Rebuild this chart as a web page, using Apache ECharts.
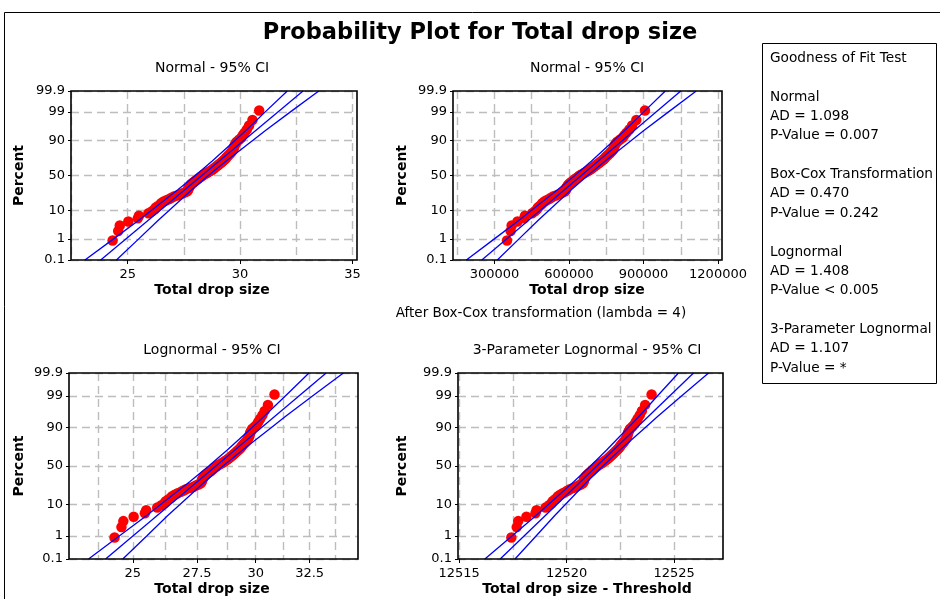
<!DOCTYPE html>
<html>
<head>
<meta charset="utf-8">
<script src="https://cdn.jsdelivr.net/npm/echarts@6/dist/echarts.min.js"></script>
<style>
  html, body { margin: 0; padding: 0; background: #fff; }
  #main { width: 940px; height: 599px; }
</style>
</head>
<body>
<div id="main"></div>
<script>
// sorted sample (n = 80)
var dropSize = [
  24.33, 24.58, 24.65, 25.03, 25.45, 25.50, 25.92, 26.08, 26.20, 26.25,
  26.35, 26.45, 26.50, 26.60, 26.72, 26.85, 26.95, 27.05, 27.20, 27.35,
  27.45, 27.55, 27.65, 27.68, 27.70, 27.70, 27.72, 27.75, 27.78, 27.80,
  27.85, 27.90, 27.95, 28.00, 28.05, 28.10, 28.15, 28.20, 28.25, 28.30,
  28.35, 28.42, 28.50, 28.55, 28.62, 28.68, 28.75, 28.80, 28.85, 28.90,
  28.95, 29.00, 29.05, 29.10, 29.15, 29.20, 29.25, 29.30, 29.35, 29.38,
  29.42, 29.47, 29.52, 29.57, 29.62, 29.66, 29.70, 29.72, 29.74, 29.76,
  29.80, 29.85, 29.95, 30.05, 30.12, 30.20, 30.30, 30.40, 30.55, 30.85
];
var boxCoxLambda = 4;
var threshold = -12493.1;

// probability axis
var percentTicks = [0.1, 1, 10, 50, 90, 99, 99.9];
// percent levels where the fit line and the 95% CI are read
var ciPercents = [0.1, 1, 5, 10, 30, 50, 70, 90, 95, 99, 99.9];

// Normal
var fitNormal = [23.80, 32.80];
var ciNormalLow = [23.10, 24.36, 25.48, 26.05, 27.23, 28.01, 28.75, 29.77, 30.26, 31.12, 32.10];
var ciNormalHigh = [24.50, 25.48, 26.35, 26.84, 27.85, 28.59, 29.37, 30.56, 31.13, 32.24, 33.50];
// Normal after Box-Cox
var fitBoxCox = [249000, 1050000];
var ciBoxCoxLow = [186800, 298300, 397600, 448200, 553900, 623600, 689800, 780400, 823900, 901200, 987700];
var ciBoxCoxHigh = [311300, 397800, 475100, 518600, 609200, 675400, 745100, 850800, 901400, 1000700, 1112300];
// Lognormal
var fitLogn = [24.01, 33.31];
var ciLognLow = [23.41, 24.50, 25.52, 26.05, 27.20, 27.98, 28.75, 29.84, 30.37, 31.35, 32.47];
var ciLognHigh = [24.63, 25.52, 26.33, 26.81, 27.82, 28.58, 29.41, 30.71, 31.35, 32.64, 34.17];
// 3-Parameter Lognormal
var fit3p = [12516.91, 12525.90];
var ci3pLow = [12516.20, 12517.46, 12518.58, 12519.15, 12520.33, 12521.11, 12521.85, 12522.87, 12523.36, 12524.22, 12525.20];
var ci3pHigh = [12517.60, 12518.58, 12519.45, 12519.94, 12520.95, 12521.69, 12522.47, 12523.66, 12524.23, 12525.34, 12526.60];

// x tick values
var gridX1 = [22.5, 25, 27.5, 30, 32.5, 35];
var labX1 = [25, 30, 35];
var gridX2 = [150000, 300000, 450000, 600000, 750000, 900000, 1050000, 1200000];
var labX2 = [300000, 600000, 900000, 1200000];
var gridX3 = [23.75, 25, 26.25, 27.5, 28.75, 30, 31.25, 32.5, 33.75];
var labX3 = [25, 27.5, 30, 32.5];
var gridX4 = [12515, 12517.5, 12520, 12522.5, 12525];
var labX4 = [12515, 12520, 12525];

var goodness = [
  'Goodness of Fit Test', '',
  'Normal', 'AD = 1.098', 'P-Value = 0.007', '',
  'Box-Cox Transformation', 'AD = 0.470', 'P-Value = 0.242', '',
  'Lognormal', 'AD = 1.408', 'P-Value < 0.005', '',
  '3-Parameter Lognormal', 'AD = 1.107', 'P-Value = *'
];

// inverse standard normal (Acklam)
function normInv(p) {
  var a = [-3.969683028665376e+01, 2.209460984245205e+02, -2.759285104469687e+02, 1.383577518672690e+02, -3.066479806614716e+01, 2.506628277459239e+00];
  var b = [-5.447609879822406e+01, 1.615858368580409e+02, -1.556989798598866e+02, 6.680131188771972e+01, -1.328068155288572e+01];
  var c = [-7.784894002430293e-03, -3.223964580411365e-01, -2.400758277161838e+00, -2.549732539343734e+00, 4.374664141464968e+00, 2.938163982698783e+00];
  var d = [7.784695709041462e-03, 3.224671290700398e-01, 2.445134137142996e+00, 3.754408661907416e+00];
  var pl = 0.02425, q, r;
  if (p < pl) {
    q = Math.sqrt(-2 * Math.log(p));
    return (((((c[0]*q+c[1])*q+c[2])*q+c[3])*q+c[4])*q+c[5]) / ((((d[0]*q+d[1])*q+d[2])*q+d[3])*q+1);
  }
  if (p > 1 - pl) {
    q = Math.sqrt(-2 * Math.log(1 - p));
    return -(((((c[0]*q+c[1])*q+c[2])*q+c[3])*q+c[4])*q+c[5]) / ((((d[0]*q+d[1])*q+d[2])*q+d[3])*q+1);
  }
  q = p - 0.5; r = q * q;
  return (((((a[0]*r+a[1])*r+a[2])*r+a[3])*r+a[4])*r+a[5])*q / (((((b[0]*r+b[1])*r+b[2])*r+b[3])*r+b[4])*r+1);
}

var zTicks = percentTicks.map(function (p) { return normInv(p / 100); });
var zCi = ciPercents.map(function (p) { return normInv(p / 100); });
var n = dropSize.length;
// median ranks
var zRank = dropSize.map(function (v, i) { return normInv((i + 1 - 0.3) / (n + 0.4)); });

var FONT = 'DejaVu Sans';
var gridStyle = { color: '#bdbdbd', width: 1.4, type: [8, 5] };

function ident(v) { return v; }
function plain(v) { return String(+(+v).toFixed(2)); }

var panels = [
  { rect: { left: 71, top: 91, width: 286, height: 169 }, xr: [22.48, 35.2], gx: gridX1, lx: labX1,
    f: ident, lab: plain, fit: fitNormal, lo: ciNormalLow, hi: ciNormalHigh,
    title: 'Normal - 95% CI', xname: 'Total drop size' },
  { rect: { left: 453, top: 91, width: 269, height: 169 }, xr: [133000, 1216000], gx: gridX2, lx: labX2,
    f: function (v) { return Math.pow(v, boxCoxLambda); }, lab: plain,
    fit: fitBoxCox, lo: ciBoxCoxLow, hi: ciBoxCoxHigh,
    title: 'Normal - 95% CI', xname: 'Total drop size' },
  { rect: { left: 69, top: 373, width: 289, height: 186 }, xr: [22.74, 34.92], gx: gridX3, lx: labX3,
    f: Math.log, lab: function (v) { return plain(Math.exp(v)); }, logAxis: true,
    fit: fitLogn, lo: ciLognLow, hi: ciLognHigh,
    title: 'Lognormal - 95% CI', xname: 'Total drop size' },
  { rect: { left: 458, top: 373, width: 265, height: 186 }, xr: [12514.95, 12527.27], gx: gridX4, lx: labX4,
    f: function (v) { return v - threshold; }, lab: plain,
    fit: fit3p, lo: ci3pLow, hi: ci3pHigh,
    title: '3-Parameter Lognormal - 95% CI', xname: 'Total drop size - Threshold' }
];

var grids = [], xAxes = [], yAxes = [], series = [], gfx = [];

function txt(s, x, y, size, bold, align, rot) {
  return {
    type: 'text', x: x, y: y, rotation: rot || 0, z: 100,
    style: {
      text: s, x: 0, y: 0, fill: '#000',
      fontSize: size, fontWeight: bold ? 'bold' : 'normal', fontFamily: FONT,
      textAlign: align || 'center', align: align || 'center',
      textVerticalAlign: 'middle', verticalAlign: 'middle'
    }
  };
}

panels.forEach(function (pn, i) {
  // lognormal panel is plotted on ln(x); its CI arrays are kept in drop-size units
  var ax = pn.logAxis ? Math.log : ident;
  grids.push(pn.rect);
  xAxes.push({
    gridIndex: i, type: 'value', min: ax(pn.xr[0]), max: ax(pn.xr[1]),
    axisLine: { show: false },
    axisTick: { show: false, customValues: pn.gx.map(ax) },
    axisLabel: { show: false },
    splitLine: { show: true, lineStyle: gridStyle }
  });
  xAxes.push({
    gridIndex: i, type: 'value', position: 'bottom', min: ax(pn.xr[0]), max: ax(pn.xr[1]),
    axisLine: { show: false },
    axisTick: { show: true, length: 4, customValues: pn.lx.map(ax), lineStyle: { color: '#000', width: 1 } },
    axisLabel: { customValues: pn.lx.map(ax), formatter: pn.lab, color: '#000', fontSize: 13, fontFamily: FONT, margin: 8 },
    splitLine: { show: false }
  });
  yAxes.push({
    gridIndex: i, type: 'value', min: zTicks[0], max: zTicks[zTicks.length - 1],
    axisLine: { show: false },
    axisTick: { show: true, length: 3, customValues: zTicks, lineStyle: { color: '#000', width: 1 } },
    axisLabel: {
      customValues: zTicks, color: '#000', fontSize: 13, fontFamily: FONT, margin: 6,
      formatter: function (v) {
        var best = 0;
        zTicks.forEach(function (z, k) { if (Math.abs(z - v) < Math.abs(zTicks[best] - v)) best = k; });
        return String(percentTicks[best]);
      }
    },
    splitLine: { show: true, lineStyle: gridStyle }
  });

  series.push({
    type: 'scatter', xAxisIndex: 2 * i, yAxisIndex: i, z: 2,
    symbol: 'circle', symbolSize: 10.5, itemStyle: { color: '#ff0000', opacity: 1 },
    data: dropSize.map(function (v, k) { return [pn.f(v), zRank[k]]; })
  });
  function line(vals, zs) {
    return {
      type: 'line', xAxisIndex: 2 * i, yAxisIndex: i, z: 3, showSymbol: false, symbol: 'none',
      lineStyle: { color: '#0000ff', width: 1.3 }, clip: true,
      data: vals.map(function (v, k) { return [ax(v), zs[k]]; })
    };
  }
  series.push(line(pn.fit, [zTicks[0], zTicks[zTicks.length - 1]]));
  series.push(line(pn.lo, zCi));
  series.push(line(pn.hi, zCi));

  var r = pn.rect;
  gfx.push({
    type: 'rect', z: 100,
    shape: { x: r.left, y: r.top, width: r.width, height: r.height },
    style: { fill: null, stroke: '#000', lineWidth: 1.6 }
  });
  gfx.push(txt(pn.title, i % 2 ? 587 : 212, i < 2 ? 68.5 : 350.5, 14, false));
  gfx.push(txt(pn.xname, i % 2 ? 587 : 212, i < 2 ? 290 : 589, 14, true));
  gfx.push(txt('Percent', i % 2 ? 402.5 : 19.5, r.top + r.height / 2, 14, true, 'center', Math.PI / 2));
});

gfx.push(txt('Probability Plot for Total drop size', 480, 33, 22.5, true));
gfx.push(txt('After Box-Cox transformation (lambda = 4)', 541, 313, 13.5, false));

// outer frame and fit-test box
gfx.push({ type: 'rect', z: 90, shape: { x: 4.5, y: 12.5, width: 960, height: 620 }, style: { fill: null, stroke: '#000', lineWidth: 1 } });
gfx.push({ type: 'rect', z: 90, shape: { x: 762.5, y: 43.5, width: 174, height: 340 }, style: { fill: null, stroke: '#000', lineWidth: 1 } });
goodness.forEach(function (s, k) {
  if (s) gfx.push(txt(s, 770, 58.3 + k * 19.375, 13.7, false, 'left'));
});

var chart = echarts.init(document.getElementById('main'), null, { renderer: 'canvas' });
chart.setOption({
  animation: false,
  backgroundColor: '#fff',
  grid: grids,
  xAxis: xAxes,
  yAxis: yAxes,
  series: series,
  graphic: { elements: gfx }
});
</script>
</body>
</html>
